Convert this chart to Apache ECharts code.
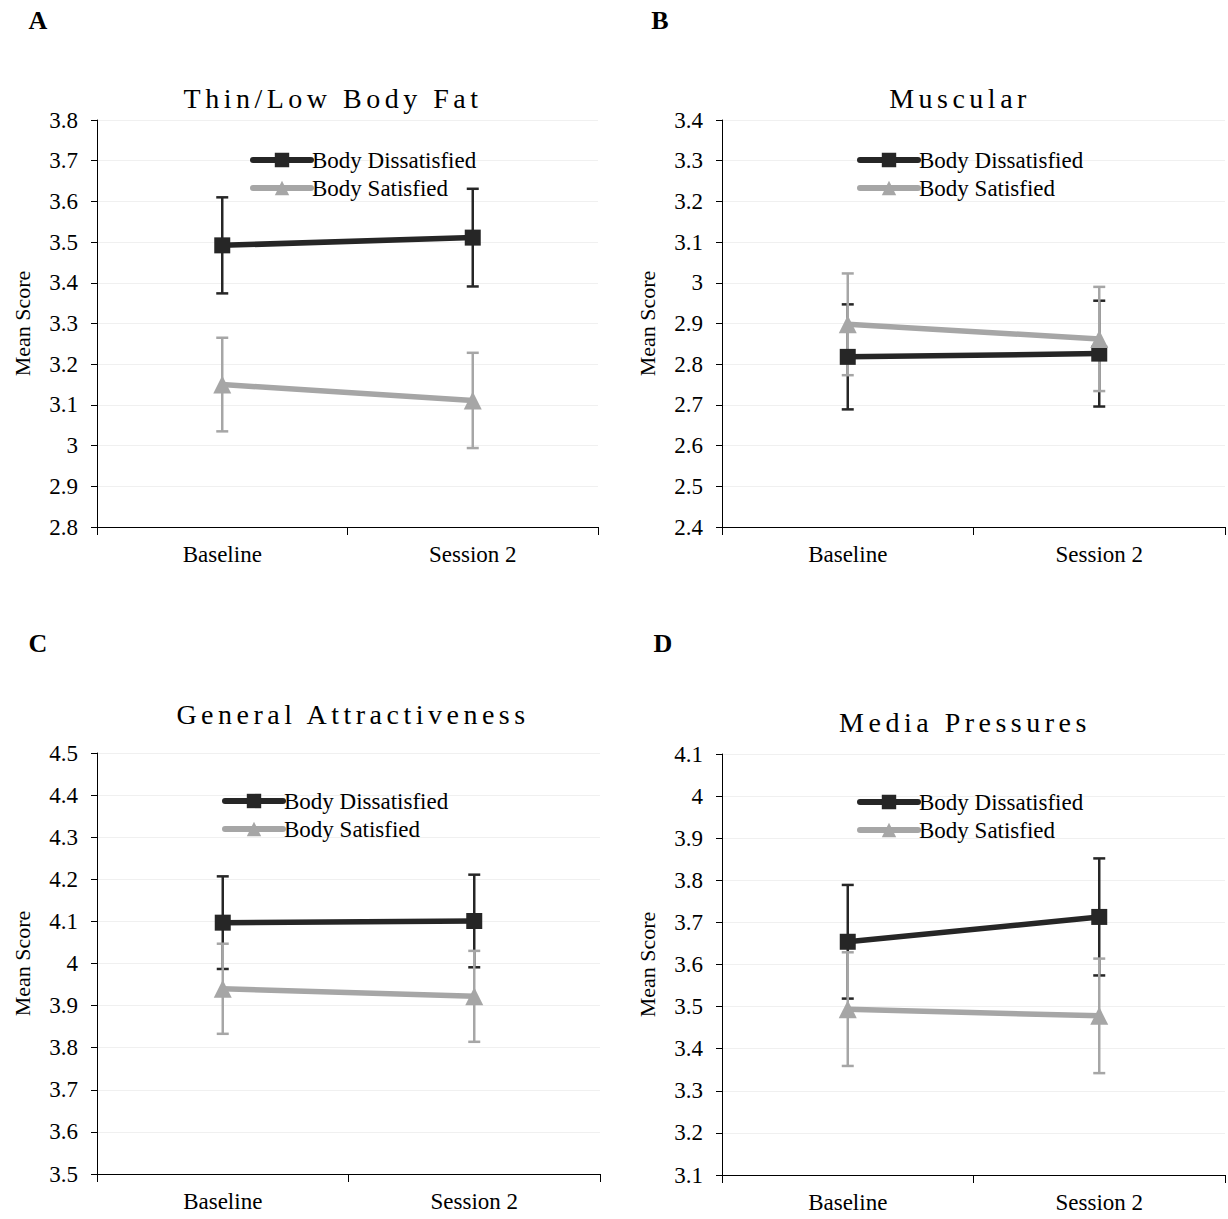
<!DOCTYPE html>
<html><head><meta charset="utf-8">
<script src="https://cdn.jsdelivr.net/npm/echarts@6/dist/echarts.min.js"></script>
<style>html,body{margin:0;padding:0;background:#fff}#c{width:1228px;height:1219px}</style>
</head><body><div id="c"></div>
<script>
// ---------- data ----------
const categories = ['Baseline', 'Session 2'];
const panelLetters = ['A', 'B', 'C', 'D'];
const panelTitles = ['Thin/Low Body Fat', 'Muscular', 'General Attractiveness', 'Media Pressures'];
const seriesNames = ['Body Dissatisfied', 'Body Satisfied'];
const yAxisName = 'Mean Score';
const yMins = [2.8, 2.4, 3.5, 3.1];
const yMaxs = [3.8, 3.4, 4.5, 4.1];
const yStep = 0.1;

const thinDiss = [3.492, 3.511];
const thinDissErr = [0.118, 0.120];
const thinSat = [3.150, 3.111];
const thinSatErr = [0.115, 0.117];

const muscDiss = [2.818, 2.826];
const muscDissErr = [0.129, 0.130];
const muscSat = [2.898, 2.862];
const muscSatErr = [0.125, 0.128];

const attrDiss = [4.097, 4.101];
const attrDissErr = [0.110, 0.110];
const attrSat = [3.940, 3.922];
const attrSatErr = [0.107, 0.108];

const mediaDiss = [3.654, 3.713];
const mediaDissErr = [0.135, 0.139];
const mediaSat = [3.494, 3.478];
const mediaSatErr = [0.135, 0.136];

const panelData = [
  [thinDiss, thinDissErr, thinSat, thinSatErr],
  [muscDiss, muscDissErr, muscSat, muscSatErr],
  [attrDiss, attrDissErr, attrSat, attrSatErr],
  [mediaDiss, mediaDissErr, mediaSat, mediaSatErr]
];

// ---------- layout / style ----------
const FONT = '"Liberation Serif", "Times New Roman", serif';
const DARK = '#262626';
const GRAY = '#a6a6a6';
const grids = [
  {left: 97, top: 120, width: 501, height: 407},
  {left: 722, top: 120, width: 503, height: 407},
  {left: 97, top: 753, width: 503, height: 421},
  {left: 722, top: 754, width: 503, height: 421}
];
const legendPos = [
  {left: 250, top: 148},
  {left: 857, top: 148},
  {left: 222, top: 789},
  {left: 857, top: 790}
];
const titlePos = [[333, 98], [960, 98], [353, 714], [965, 722]];
const letterPos = [[38, 20], [660, 20], [38, 643], [663, 643]];

function errRender(color) {
  return function (params, api) {
    const x = api.value(0), lo = api.value(1), hi = api.value(2);
    const p1 = api.coord([x, hi]), p2 = api.coord([x, lo]);
    const hw = 6;
    const style = {stroke: color, lineWidth: 2.5};
    return {type: 'group', children: [
      {type: 'line', shape: {x1: p1[0], y1: p1[1], x2: p2[0], y2: p2[1]}, style: style},
      {type: 'line', shape: {x1: p1[0] - hw, y1: p1[1], x2: p1[0] + hw, y2: p1[1]}, style: style},
      {type: 'line', shape: {x1: p2[0] - hw, y1: p2[1], x2: p2[0] + hw, y2: p2[1]}, style: style}
    ]};
  };
}

const xAxes = [], yAxes = [], series = [], legends = [], graphics = [];
grids.forEach(function (g, i) {
  xAxes.push({
    type: 'category', gridIndex: i, data: categories, boundaryGap: true,
    axisLine: {lineStyle: {color: '#000', width: 1}},
    axisTick: {show: true, length: 8, lineStyle: {color: '#000'}},
    axisLabel: {color: '#000', fontFamily: FONT, fontSize: 23, margin: 16},
    splitLine: {show: false}
  });
  yAxes.push({
    type: 'value', gridIndex: i, min: yMins[i], max: yMaxs[i], interval: yStep,
    name: yAxisName, nameLocation: 'middle', nameGap: 64, nameRotate: 90,
    nameTextStyle: {color: '#000', fontFamily: FONT, fontSize: 22},
    axisLine: {show: true, lineStyle: {color: '#000', width: 1}},
    axisTick: {show: true, length: 6, lineStyle: {color: '#000'}},
    axisLabel: {color: '#000', fontFamily: FONT, fontSize: 23, margin: 19},
    splitLine: {show: true, lineStyle: {color: '#f0f0f0', width: 1}}
  });
  const d = panelData[i];
  const colors = [DARK, GRAY];
  [0, 1].forEach(function (s) {
    const means = d[s * 2], errs = d[s * 2 + 1];
    series.push({
      type: 'custom', name: 'err' + i + s, xAxisIndex: i, yAxisIndex: i, z: 2,
      renderItem: errRender(colors[s]),
      data: means.map(function (m, k) { return [k, m - errs[k], m + errs[k]]; }),
      silent: true
    });
  });
  [0, 1].forEach(function (s) {
    series.push({
      type: 'line', name: seriesNames[s], xAxisIndex: i, yAxisIndex: i, z: 3,
      data: d[s * 2],
      symbol: s === 0 ? 'rect' : 'triangle',
      symbolSize: s === 0 ? 16 : 18,
      lineStyle: {color: colors[s], width: 5.5},
      itemStyle: {color: colors[s]},
      silent: true
    });
  });
  legends.push({
    data: seriesNames, orient: 'vertical', left: legendPos[i].left, top: legendPos[i].top,
    itemWidth: 58, itemHeight: 18, itemGap: 4, padding: 0,
    lineStyle: {width: 6, cap: 'round'},
    textStyle: {color: '#000', fontFamily: FONT, fontSize: 23, lineHeight: 24, padding: [0, 0, 0, -4]},
    selectedMode: false
  });
  graphics.push({
    type: 'text', x: titlePos[i][0], y: titlePos[i][1],
    style: {text: panelTitles[i], fill: '#000', fontSize: 28, fontFamily: FONT, textAlign: 'center', textVerticalAlign: 'middle'}
  });
  graphics.push({
    type: 'text', x: letterPos[i][0], y: letterPos[i][1],
    style: {text: panelLetters[i], fill: '#000', fontSize: 26, fontWeight: 'bold', fontFamily: FONT, textAlign: 'center', textVerticalAlign: 'middle'}
  });
});

const chart = echarts.init(document.getElementById('c'), null, {renderer: 'svg'});
chart.setOption({
  animation: false,
  backgroundColor: '#fff',
  textStyle: {fontFamily: FONT},
  grid: grids,
  xAxis: xAxes,
  yAxis: yAxes,
  legend: legends,
  graphic: graphics,
  series: series
});
function applySpacing() {
  document.querySelectorAll('#c svg text').forEach(function (t) {
    if (panelTitles.indexOf(t.textContent) >= 0) t.setAttribute('letter-spacing', '4.5');
  });
}
chart.on('finished', applySpacing);
applySpacing();
setTimeout(applySpacing, 50);
</script>
</body></html>
